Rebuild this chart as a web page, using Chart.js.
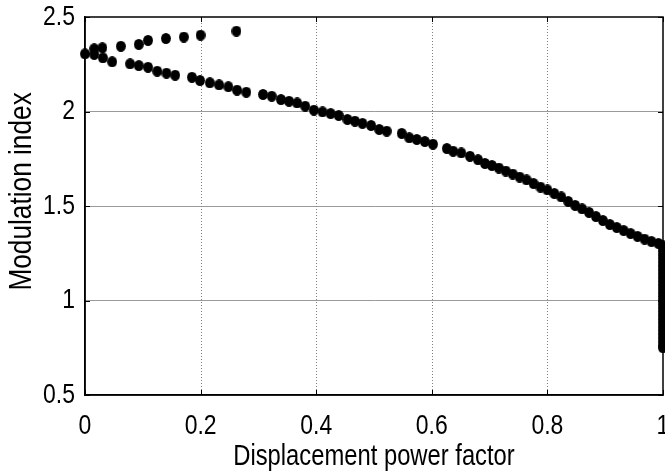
<!DOCTYPE html>
<html>
<head>
<meta charset="utf-8">
<script src="https://cdn.jsdelivr.net/npm/chart.js@4.4.1/dist/chart.umd.min.js"></script>
<style>
  html, body { margin: 0; padding: 0; background: #fff; overflow: hidden; }
  .box { width: 669px; height: 476px; }
</style>
</head>
<body>
<div class="box"><canvas id="chart"></canvas></div>
<script>
// upper branch (few points near the top left)
const upperX = [0.016, 0.030, 0.062, 0.093, 0.109, 0.140, 0.171, 0.200, 0.262];
const upperY = [2.332, 2.337, 2.345, 2.355, 2.376, 2.386, 2.394, 2.404, 2.425];

// lower branch
const lowerX = [0.000, 0.016, 0.031, 0.047, 0.078, 0.093, 0.109, 0.125, 0.141, 0.156,
  0.185, 0.199, 0.216, 0.232, 0.248, 0.263, 0.279, 0.308, 0.323, 0.339,
  0.353, 0.367, 0.381, 0.396, 0.411, 0.425, 0.439, 0.454, 0.467, 0.480,
  0.495, 0.509, 0.522, 0.548, 0.561, 0.574, 0.588, 0.602, 0.626, 0.637,
  0.651, 0.666, 0.680, 0.692, 0.704, 0.716, 0.728, 0.740, 0.752, 0.764,
  0.776, 0.788, 0.800, 0.812, 0.824, 0.836, 0.848, 0.860, 0.872, 0.884,
  0.896, 0.908, 0.920, 0.932, 0.944, 0.956, 0.968, 0.980, 0.992, 1.000];
const lowerY = [2.305, 2.302, 2.284, 2.263, 2.252, 2.243, 2.234, 2.213, 2.203, 2.192,
  2.181, 2.164, 2.152, 2.141, 2.131, 2.113, 2.102, 2.090, 2.081, 2.063,
  2.054, 2.045, 2.028, 2.007, 1.998, 1.989, 1.979, 1.958, 1.949, 1.937,
  1.926, 1.905, 1.896, 1.884, 1.861, 1.852, 1.841, 1.827, 1.804, 1.790,
  1.781, 1.763, 1.745, 1.725, 1.714, 1.701, 1.685, 1.669, 1.653, 1.638,
  1.619, 1.600, 1.585, 1.566, 1.548, 1.524, 1.503, 1.485, 1.466, 1.444,
  1.423, 1.402, 1.386, 1.370, 1.354, 1.339, 1.325, 1.312, 1.302, 1.290];

// points stacked at displacement power factor = 1
const edgeY = [1.28, 1.26, 1.24, 1.22, 1.20, 1.18, 1.16, 1.14, 1.12, 1.10,
  1.08, 1.06, 1.04, 1.02, 1.00, 0.98, 0.96, 0.94, 0.92, 0.90,
  0.88, 0.86, 0.84, 0.82, 0.80, 0.78, 0.76, 0.75];

const xTicks = [0, 0.2, 0.4, 0.6, 0.8, 1];
const yTicks = [0.5, 1, 1.5, 2, 2.5];

const pts = [];
upperX.forEach((x, i) => pts.push({ x: x, y: upperY[i] }));
lowerX.forEach((x, i) => pts.push({ x: x, y: lowerY[i] }));
edgeY.forEach(y => pts.push({ x: 1, y: y }));

// slightly tall dot like the original markers
const dot = document.createElement('canvas');
dot.width = 10; dot.height = 11;
const dc = dot.getContext('2d');
dc.fillStyle = '#000';
dc.beginPath();
dc.ellipse(5, 5.5, 4.9, 5.5, 0, 0, Math.PI * 2);
dc.fill();

// no narrow font installed -> squeeze the text horizontally
const canvas = document.getElementById('chart');
const ctx = canvas.getContext('2d');
ctx.fillText = function (t, x, y) {
  this.save();
  this.translate(x, y);
  this.scale(0.82, 1);
  CanvasRenderingContext2D.prototype.fillText.call(this, t, 0, 0);
  this.restore();
};

const boxPlugin = {
  id: 'box',
  afterDraw(chart) {
    const a = chart.chartArea, c = chart.ctx;
    const sx = chart.scales.x, sy = chart.scales.y;
    c.save();
    c.strokeStyle = '#000';
    c.lineWidth = 1.5;
    c.strokeRect(a.left, a.top, a.right - a.left, a.bottom - a.top);
    // small inward ticks like matlab
    c.lineWidth = 1;
    c.beginPath();
    xTicks.forEach(v => {
      const px = Math.round(sx.getPixelForValue(v)) + 0.5;
      c.moveTo(px, a.bottom); c.lineTo(px, a.bottom - 5);
      c.moveTo(px, a.top); c.lineTo(px, a.top + 5);
    });
    yTicks.forEach(v => {
      const py = Math.round(sy.getPixelForValue(v)) + 0.5;
      c.moveTo(a.left, py); c.lineTo(a.left + 5, py);
      c.moveTo(a.right, py); c.lineTo(a.right - 5, py);
    });
    c.stroke();
    c.restore();
  }
};

const dotGrid = {
  id: 'dotGrid',
  beforeDatasetsDraw(chart) {
    // vertical grid lines are dotted in the original
    const c = chart.ctx, a = chart.chartArea, sx = chart.scales.x;
    c.save();
    c.strokeStyle = '#808080';
    c.lineWidth = 1;
    c.setLineDash([1, 2]);
    xTicks.slice(1, -1).forEach(v => {
      const px = Math.round(sx.getPixelForValue(v)) + 0.5;
      c.beginPath(); c.moveTo(px, a.top); c.lineTo(px, a.bottom); c.stroke();
    });
    c.restore();
  }
};

const font = 'Liberation Sans, Arial, sans-serif';

new Chart(canvas, {
  type: 'scatter',
  data: {
    datasets: [{
      data: pts,
      pointStyle: dot,
      pointRadius: 5,
      clip: false
    }]
  },
  options: {
    responsive: true,
    maintainAspectRatio: false,
    animation: false,
    layout: { padding: { top: 17, left: 0, right: 0, bottom: 0 } },
    plugins: { legend: { display: false }, tooltip: { enabled: false } },
    scales: {
      x: {
        type: 'linear', min: 0, max: 1,
        afterBuildTicks: s => { s.ticks = xTicks.map(v => ({ value: v })); },
        afterFit: s => { s.height = 81; s.paddingLeft = 0; s.paddingRight = 0; },
        grid: { display: false },
        border: { color: '#000', width: 1.5 },
        ticks: {
          color: '#000', font: { family: font, size: 28 }, padding: 6, maxRotation: 0,
          callback: v => String(v)
        },
        title: {
          display: true, text: 'Displacement power factor', color: '#000',
          font: { family: font, size: 29 }, padding: { top: 0, bottom: 2 }
        }
      },
      y: {
        type: 'linear', min: 0.5, max: 2.5,
        afterBuildTicks: s => { s.ticks = yTicks.map(v => ({ value: v })); },
        afterFit: s => { s.width = 85; s.paddingTop = 0; s.paddingBottom = 0; },
        grid: {
          color: c => (c.tick.value === 0.5 || c.tick.value === 2.5) ? 'rgba(0,0,0,0)' : '#9a9a9a',
          lineWidth: 1, drawTicks: false
        },
        border: { color: '#000', width: 1.5 },
        ticks: {
          color: '#000', font: { family: font, size: 28 }, padding: 10,
          callback: v => String(v)
        },
        title: {
          display: true, text: '    Modulation index', color: '#000',
          font: { family: font, size: 32 }, padding: { top: 3, bottom: 0 }
        }
      }
    }
  },
  plugins: [dotGrid, boxPlugin]
});
</script>
</body>
</html>
